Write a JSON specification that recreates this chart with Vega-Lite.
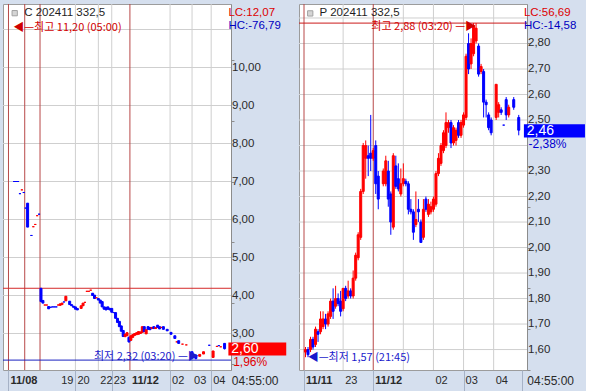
{
"$schema": "https://vega.github.io/schema/vega-lite/v6.json",
"background": "#d5dfee",
"padding": {"left": 2, "top": 3, "right": 0, "bottom": 0},
"spacing": 68,
"bounds": "flush",
"config": {
  "view": {"fill": "#ffffff", "stroke": "#9c9c9c"},
  "axis": {"labelFont": "Liberation Sans", "labelFontSize": 12, "labelColor": "#2a2a2a", "domainColor": "#8c8c8c", "tickColor": "#8c8c8c", "grid": false}
},
"datasets": {
"one": [{}],
"gLx": [{"v":35},{"v":47},{"v":54},{"v":84.5},{"v":96},{"v":106}],
"gLy": [{"v":3},{"v":4},{"v":5},{"v":6},{"v":7},{"v":8},{"v":9},{"v":10},{"v":11}],
"tLxB": [{"v":0,"t":"11/08"},{"v":63.5,"t":"11/12"}],
"tLxN": [{"v":26.5,"t":"19"},{"v":35,"t":"20"},{"v":47,"t":"22"},{"v":54,"t":"23"},{"v":84.5,"t":"02"},{"v":96,"t":"03"},{"v":106,"t":"04"}],
"tLy": [{"v":3,"t":"3,00"},{"v":4,"t":"4,00"},{"v":5,"t":"5,00"},{"v":6,"t":"6,00"},{"v":7,"t":"7,00"},{"v":8,"t":"8,00"},{"v":9,"t":"9,00"},{"v":10,"t":"10,00"}],
"gRx": [{"v":15},{"v":39},{"v":51},{"v":63},{"v":75}],
"gRy": [{"v":1.6},{"v":1.7},{"v":1.8},{"v":1.9},{"v":2.0},{"v":2.1},{"v":2.2},{"v":2.3},{"v":2.4},{"v":2.5},{"v":2.6},{"v":2.7},{"v":2.8},{"v":2.9}],
"tRxB": [{"v":-0.6,"t":"11/11"},{"v":27,"t":"11/12"}],
"tRxN": [{"v":15,"t":"23"},{"v":51,"t":"02"},{"v":63,"t":"03"},{"v":75,"t":"04"}],
"tRy": [{"v":1.6,"t":"1,60"},{"v":1.7,"t":"1,70"},{"v":1.8,"t":"1,80"},{"v":1.9,"t":"1,90"},{"v":2.0,"t":"2,00"},{"v":2.1,"t":"2,10"},{"v":2.2,"t":"2,20"},{"v":2.3,"t":"2,30"},{"v":2.5,"t":"2,50"},{"v":2.6,"t":"2,60"},{"v":2.7,"t":"2,70"},{"v":2.8,"t":"2,80"}],
"L": [
{"n":3,"o":7,"h":7,"l":7,"c":7,"d":"d"},
{"n":4,"o":7,"h":7,"l":7,"c":7,"d":"d"},
{"n":5,"o":7,"h":7,"l":7,"c":7,"d":"d"},
{"n":6,"o":6.68,"h":6.68,"l":6.68,"c":6.68,"d":"d"},
{"n":7,"o":6.78,"h":6.78,"l":6.78,"c":6.78,"d":"u"},
{"n":8,"o":6.71,"h":6.71,"l":6.71,"c":6.71,"d":"d"},
{"n":9,"o":6.3,"h":6.3,"l":6.3,"c":6.3,"d":"d"},
{"n":10,"o":6.43,"h":6.43,"l":5.8,"c":5.8,"d":"d"},
{"n":12,"o":5.58,"h":5.58,"l":5.58,"c":5.58,"d":"d"},
{"n":13,"o":5.81,"h":5.81,"l":5.81,"c":5.81,"d":"u"},
{"n":14,"o":5.87,"h":5.87,"l":5.87,"c":5.87,"d":"u"},
{"n":15,"o":6.1,"h":6.1,"l":6.1,"c":6.1,"d":"u"},
{"n":16,"o":6.14,"h":6.14,"l":6.14,"c":6.14,"d":"d"},
{"n":17,"o":4.19,"h":4.19,"l":3.84,"c":3.84,"d":"d"},
{"n":18,"o":3.87,"h":3.87,"l":3.8,"c":3.8,"d":"d"},
{"n":19,"o":3.75,"h":3.75,"l":3.75,"c":3.75,"d":"u"},
{"n":20,"o":3.75,"h":3.75,"l":3.75,"c":3.75,"d":"u"},
{"n":21,"o":3.71,"h":3.71,"l":3.65,"c":3.65,"d":"d"},
{"n":22,"o":3.69,"h":3.69,"l":3.69,"c":3.69,"d":"d"},
{"n":23,"o":3.7,"h":3.7,"l":3.7,"c":3.7,"d":"d"},
{"n":24,"o":3.7,"h":3.7,"l":3.7,"c":3.7,"d":"d"},
{"n":25,"o":3.7,"h":3.7,"l":3.7,"c":3.7,"d":"d"},
{"n":26,"o":3.75,"h":3.75,"l":3.75,"c":3.75,"d":"u"},
{"n":27,"o":3.74,"h":3.78,"l":3.74,"c":3.78,"d":"u"},
{"n":28,"o":3.76,"h":3.8,"l":3.76,"c":3.8,"d":"u"},
{"n":29,"o":3.83,"h":3.83,"l":3.83,"c":3.83,"d":"d"},
{"n":30,"o":3.86,"h":3.98,"l":3.86,"c":3.98,"d":"u"},
{"n":32,"o":3.85,"h":3.85,"l":3.76,"c":3.76,"d":"d"},
{"n":33,"o":3.76,"h":3.76,"l":3.73,"c":3.73,"d":"d"},
{"n":34,"o":3.72,"h":3.72,"l":3.69,"c":3.69,"d":"d"},
{"n":35,"o":3.7,"h":3.7,"l":3.64,"c":3.64,"d":"d"},
{"n":36,"o":3.66,"h":3.66,"l":3.62,"c":3.62,"d":"d"},
{"n":38,"o":3.66,"h":3.73,"l":3.66,"c":3.73,"d":"u"},
{"n":39,"o":3.73,"h":3.8,"l":3.73,"c":3.8,"d":"u"},
{"n":40,"o":3.82,"h":3.82,"l":3.82,"c":3.82,"d":"u"},
{"n":41,"o":4.11,"h":4.11,"l":4.11,"c":4.11,"d":"u"},
{"n":42,"o":4.11,"h":4.11,"l":4.11,"c":4.11,"d":"u"},
{"n":43,"o":4.14,"h":4.14,"l":4.14,"c":4.14,"d":"u"},
{"n":44,"o":4.06,"h":4.06,"l":4.0,"c":4.0,"d":"d"},
{"n":45,"o":4.01,"h":4.01,"l":3.92,"c":3.92,"d":"d"},
{"n":46,"o":3.94,"h":3.94,"l":3.94,"c":3.94,"d":"u"},
{"n":47,"o":3.92,"h":3.92,"l":3.88,"c":3.88,"d":"d"},
{"n":48,"o":3.88,"h":3.88,"l":3.8,"c":3.8,"d":"d"},
{"n":49,"o":3.84,"h":3.84,"l":3.7,"c":3.7,"d":"d"},
{"n":50,"o":3.7,"h":3.7,"l":3.64,"c":3.64,"d":"d"},
{"n":51,"o":3.69,"h":3.69,"l":3.62,"c":3.62,"d":"d"},
{"n":52,"o":3.7,"h":3.7,"l":3.64,"c":3.64,"d":"d"},
{"n":53,"o":3.66,"h":3.66,"l":3.62,"c":3.62,"d":"d"},
{"n":54,"o":3.66,"h":3.66,"l":3.56,"c":3.56,"d":"d"},
{"n":55,"o":3.55,"h":3.55,"l":3.55,"c":3.55,"d":"d"},
{"n":56,"o":3.55,"h":3.55,"l":3.4,"c":3.4,"d":"d"},
{"n":57,"o":3.4,"h":3.4,"l":3.29,"c":3.29,"d":"d"},
{"n":58,"o":3.32,"h":3.32,"l":3.18,"c":3.18,"d":"d"},
{"n":59,"o":3.2,"h":3.2,"l":3.06,"c":3.06,"d":"d"},
{"n":60,"o":3.08,"h":3.08,"l":2.92,"c":2.92,"d":"d"},
{"n":61,"o":2.92,"h":3.0,"l":2.9,"c":2.98,"d":"u"},
{"n":62,"o":2.94,"h":3.04,"l":2.94,"c":3.02,"d":"u"},
{"n":63,"o":2.9,"h":2.92,"l":2.76,"c":2.78,"d":"d"},
{"n":64,"o":2.82,"h":2.94,"l":2.81,"c":2.94,"d":"u"},
{"n":65,"o":2.9,"h":2.98,"l":2.89,"c":2.97,"d":"u"},
{"n":66,"o":2.95,"h":3.0,"l":2.95,"c":3.0,"d":"u"},
{"n":67,"o":2.97,"h":3.03,"l":2.97,"c":3.02,"d":"u"},
{"n":68,"o":2.98,"h":3.05,"l":2.98,"c":3.05,"d":"u"},
{"n":69,"o":3.0,"h":3.05,"l":3.0,"c":3.04,"d":"u"},
{"n":70,"o":3.03,"h":3.18,"l":3.03,"c":3.18,"d":"u"},
{"n":71,"o":3.18,"h":3.18,"l":3.04,"c":3.05,"d":"d"},
{"n":72,"o":2.99,"h":3.1,"l":2.99,"c":3.1,"d":"u"},
{"n":73,"o":3.18,"h":3.18,"l":3.11,"c":3.11,"d":"d"},
{"n":74,"o":3.16,"h":3.16,"l":3.1,"c":3.1,"d":"d"},
{"n":75,"o":3.13,"h":3.16,"l":3.13,"c":3.16,"d":"u"},
{"n":76,"o":3.18,"h":3.18,"l":3.13,"c":3.13,"d":"d"},
{"n":77,"o":3.13,"h":3.16,"l":3.13,"c":3.16,"d":"u"},
{"n":78,"o":3.22,"h":3.22,"l":3.16,"c":3.16,"d":"d"},
{"n":79,"o":3.18,"h":3.18,"l":3.12,"c":3.12,"d":"d"},
{"n":80,"o":3.16,"h":3.16,"l":3.16,"c":3.16,"d":"u"},
{"n":81,"o":3.18,"h":3.18,"l":3.11,"c":3.11,"d":"d"},
{"n":83,"o":3.11,"h":3.11,"l":3.07,"c":3.07,"d":"d"},
{"n":85,"o":3.03,"h":3.03,"l":2.98,"c":2.98,"d":"d"},
{"n":87,"o":2.94,"h":2.94,"l":2.87,"c":2.87,"d":"d"},
{"n":88,"o":2.78,"h":2.78,"l":2.78,"c":2.78,"d":"u"},
{"n":89,"o":2.81,"h":2.81,"l":2.74,"c":2.74,"d":"d"},
{"n":91,"o":2.72,"h":2.72,"l":2.72,"c":2.72,"d":"u"},
{"n":93,"o":2.7,"h":2.7,"l":2.7,"c":2.7,"d":"u"},
{"n":96,"o":2.52,"h":2.52,"l":2.36,"c":2.38,"d":"d"},
{"n":97,"o":2.44,"h":2.45,"l":2.37,"c":2.37,"d":"d"},
{"n":98,"o":2.43,"h":2.45,"l":2.32,"c":2.34,"d":"d"},
{"n":100,"o":2.4,"h":2.45,"l":2.4,"c":2.45,"d":"u"},
{"n":102,"o":2.46,"h":2.52,"l":2.46,"c":2.52,"d":"u"},
{"n":105,"o":2.69,"h":2.69,"l":2.69,"c":2.69,"d":"d"},
{"n":107,"o":2.37,"h":2.54,"l":2.37,"c":2.54,"d":"u"},
{"n":109,"o":2.66,"h":2.66,"l":2.66,"c":2.66,"d":"u"},
{"n":110,"o":2.68,"h":2.68,"l":2.68,"c":2.68,"d":"d"},
{"n":111,"o":2.65,"h":2.65,"l":2.65,"c":2.65,"d":"u"},
{"n":113,"o":2.74,"h":2.75,"l":2.58,"c":2.6,"d":"d"}
],
"R": [
{"n":0,"o":1.59,"h":1.61,"l":1.57,"c":1.6,"d":"u"},
{"n":1,"o":1.6,"h":1.61,"l":1.57,"c":1.58,"d":"d"},
{"n":2,"o":1.6,"h":1.65,"l":1.59,"c":1.64,"d":"u"},
{"n":3,"o":1.64,"h":1.65,"l":1.6,"c":1.61,"d":"d"},
{"n":4,"o":1.62,"h":1.69,"l":1.61,"c":1.68,"d":"u"},
{"n":5,"o":1.67,"h":1.68,"l":1.63,"c":1.66,"d":"d"},
{"n":6,"o":1.67,"h":1.75,"l":1.66,"c":1.72,"d":"u"},
{"n":7,"o":1.69,"h":1.75,"l":1.68,"c":1.72,"d":"u"},
{"n":8,"o":1.72,"h":1.74,"l":1.68,"c":1.7,"d":"d"},
{"n":9,"o":1.7,"h":1.75,"l":1.69,"c":1.74,"d":"u"},
{"n":10,"o":1.73,"h":1.8,"l":1.72,"c":1.79,"d":"u"},
{"n":11,"o":1.79,"h":1.84,"l":1.72,"c":1.75,"d":"d"},
{"n":12,"o":1.77,"h":1.85,"l":1.76,"c":1.8,"d":"u"},
{"n":13,"o":1.8,"h":1.82,"l":1.77,"c":1.78,"d":"d"},
{"n":14,"o":1.79,"h":1.83,"l":1.73,"c":1.75,"d":"d"},
{"n":15,"o":1.76,"h":1.84,"l":1.75,"c":1.84,"d":"u"},
{"n":16,"o":1.84,"h":1.85,"l":1.79,"c":1.8,"d":"d"},
{"n":17,"o":1.81,"h":1.87,"l":1.8,"c":1.83,"d":"u"},
{"n":18,"o":1.83,"h":1.84,"l":1.8,"c":1.81,"d":"d"},
{"n":19,"o":1.81,"h":1.91,"l":1.8,"c":1.88,"d":"u"},
{"n":20,"o":1.88,"h":1.98,"l":1.87,"c":1.97,"d":"u"},
{"n":21,"o":1.96,"h":2.06,"l":1.95,"c":2.05,"d":"u"},
{"n":22,"o":2.04,"h":2.23,"l":2.03,"c":2.22,"d":"u"},
{"n":23,"o":2.22,"h":2.41,"l":2.21,"c":2.4,"d":"u"},
{"n":24,"o":2.35,"h":2.42,"l":2.27,"c":2.4,"d":"u"},
{"n":25,"o":2.36,"h":2.4,"l":2.28,"c":2.35,"d":"d"},
{"n":26,"o":2.37,"h":2.52,"l":2.3,"c":2.35,"d":"d"},
{"n":27,"o":2.35,"h":2.39,"l":2.34,"c":2.38,"d":"u"},
{"n":28,"o":2.4,"h":2.42,"l":2.21,"c":2.25,"d":"d"},
{"n":29,"o":2.28,"h":2.3,"l":2.15,"c":2.19,"d":"d"},
{"n":31,"o":2.25,"h":2.31,"l":2.24,"c":2.3,"d":"u"},
{"n":32,"o":2.25,"h":2.36,"l":2.24,"c":2.34,"d":"u"},
{"n":33,"o":2.3,"h":2.34,"l":2.16,"c":2.19,"d":"d"},
{"n":34,"o":2.21,"h":2.22,"l":2.05,"c":2.1,"d":"d"},
{"n":35,"o":2.08,"h":2.37,"l":2.07,"c":2.36,"d":"u"},
{"n":36,"o":2.32,"h":2.36,"l":2.23,"c":2.24,"d":"d"},
{"n":37,"o":2.27,"h":2.33,"l":2.22,"c":2.23,"d":"d"},
{"n":38,"o":2.21,"h":2.31,"l":2.2,"c":2.25,"d":"u"},
{"n":39,"o":2.25,"h":2.33,"l":2.24,"c":2.27,"d":"u"},
{"n":40,"o":2.26,"h":2.27,"l":2.24,"c":2.25,"d":"d"},
{"n":41,"o":2.25,"h":2.26,"l":2.13,"c":2.15,"d":"d"},
{"n":42,"o":2.15,"h":2.19,"l":2.13,"c":2.14,"d":"d"},
{"n":43,"o":2.14,"h":2.15,"l":2.03,"c":2.06,"d":"d"},
{"n":44,"o":2.09,"h":2.22,"l":2.08,"c":2.11,"d":"u"},
{"n":45,"o":2.15,"h":2.19,"l":2.1,"c":2.14,"d":"d"},
{"n":46,"o":2.1,"h":2.11,"l":2.02,"c":2.02,"d":"d"},
{"n":47,"o":2.04,"h":2.19,"l":2.03,"c":2.15,"d":"u"},
{"n":48,"o":2.19,"h":2.2,"l":2.14,"c":2.15,"d":"d"},
{"n":49,"o":2.13,"h":2.19,"l":2.12,"c":2.17,"d":"u"},
{"n":50,"o":2.14,"h":2.18,"l":2.13,"c":2.16,"d":"u"},
{"n":51,"o":2.15,"h":2.2,"l":2.14,"c":2.19,"d":"u"},
{"n":52,"o":2.17,"h":2.3,"l":2.16,"c":2.29,"d":"u"},
{"n":53,"o":2.29,"h":2.37,"l":2.28,"c":2.35,"d":"u"},
{"n":54,"o":2.33,"h":2.41,"l":2.32,"c":2.4,"d":"u"},
{"n":55,"o":2.38,"h":2.46,"l":2.37,"c":2.45,"d":"u"},
{"n":56,"o":2.4,"h":2.53,"l":2.39,"c":2.49,"d":"u"},
{"n":57,"o":2.47,"h":2.5,"l":2.45,"c":2.49,"d":"u"},
{"n":58,"o":2.49,"h":2.5,"l":2.39,"c":2.41,"d":"d"},
{"n":59,"o":2.41,"h":2.48,"l":2.4,"c":2.47,"d":"u"},
{"n":60,"o":2.42,"h":2.47,"l":2.4,"c":2.46,"d":"u"},
{"n":61,"o":2.49,"h":2.5,"l":2.43,"c":2.44,"d":"d"},
{"n":62,"o":2.44,"h":2.5,"l":2.43,"c":2.49,"d":"u"},
{"n":63,"o":2.48,"h":2.53,"l":2.47,"c":2.52,"d":"u"},
{"n":64,"o":2.51,"h":2.76,"l":2.5,"c":2.75,"d":"u"},
{"n":65,"o":2.8,"h":2.84,"l":2.68,"c":2.7,"d":"d"},
{"n":66,"o":2.72,"h":2.82,"l":2.7,"c":2.8,"d":"u"},
{"n":67,"o":2.76,"h":2.88,"l":2.75,"c":2.87,"d":"u"},
{"n":68,"o":2.81,"h":2.88,"l":2.8,"c":2.86,"d":"u"},
{"n":69,"o":2.79,"h":2.8,"l":2.67,"c":2.68,"d":"d"},
{"n":70,"o":2.69,"h":2.72,"l":2.68,"c":2.71,"d":"u"},
{"n":71,"o":2.69,"h":2.7,"l":2.51,"c":2.57,"d":"d"},
{"n":72,"o":2.57,"h":2.58,"l":2.51,"c":2.56,"d":"d"},
{"n":73,"o":2.52,"h":2.53,"l":2.46,"c":2.47,"d":"d"},
{"n":74,"o":2.5,"h":2.51,"l":2.44,"c":2.45,"d":"d"},
{"n":76,"o":2.51,"h":2.64,"l":2.5,"c":2.64,"d":"u"},
{"n":77,"o":2.53,"h":2.57,"l":2.51,"c":2.56,"d":"u"},
{"n":78,"o":2.54,"h":2.55,"l":2.52,"c":2.53,"d":"d"},
{"n":79,"o":2.48,"h":2.48,"l":2.48,"c":2.48,"d":"d"},
{"n":80,"o":2.58,"h":2.59,"l":2.5,"c":2.52,"d":"d"},
{"n":81,"o":2.52,"h":2.56,"l":2.51,"c":2.55,"d":"u"},
{"n":83,"o":2.58,"h":2.59,"l":2.54,"c":2.55,"d":"d"},
{"n":85,"o":2.51,"h":2.52,"l":2.44,"c":2.46,"d":"d"}
]
},
"hconcat": [
{
  "width": 228, "height": 366,
  "layer": [
    {"data": {"name": "gLx"}, "mark": {"type": "rule", "color": "#cfcfcf", "strokeWidth": 1},
     "encoding": {"x": {"field": "v", "type": "quantitative"}}},
    {"data": {"name": "gLy"}, "mark": {"type": "rule", "color": "#cfcfcf", "strokeWidth": 1},
     "encoding": {"y": {"field": "v", "type": "quantitative"}}},
    {"data": {"name": "one"}, "mark": {"type": "rule", "color": "#b84848", "strokeWidth": 1},
     "encoding": {"x": {"datum": 0, "type": "quantitative"}}},
    {"data": {"name": "one"}, "mark": {"type": "rule", "color": "#b84848", "strokeWidth": 1},
     "encoding": {"x": {"datum": 8.5, "type": "quantitative"}}},
    {"data": {"name": "one"}, "mark": {"type": "rule", "color": "#b84848", "strokeWidth": 1},
     "encoding": {"x": {"datum": 16.5, "type": "quantitative"}}},
    {"data": {"name": "one"}, "mark": {"type": "rule", "color": "#b84848", "strokeWidth": 1},
     "encoding": {"x": {"datum": 63.5, "type": "quantitative"}}},
    {"data": {"name": "one"}, "mark": {"type": "rule", "color": "#d42a2a", "strokeWidth": 1},
     "encoding": {"y": {"datum": 4.19, "type": "quantitative"}}},
    {"data": {"name": "one"}, "mark": {"type": "rule", "color": "#1a22c0", "strokeWidth": 1},
     "encoding": {"y": {"datum": 2.3, "type": "quantitative"}}},
    {"data": {"name": "L"}, "mark": {"type": "rule", "strokeWidth": 1},
     "encoding": {
       "x": {"field": "n", "type": "quantitative", "scale": {"domain": [-0.25, 113.75], "nice": false, "zero": false},
             "axis": {"title": null, "values": [0, 26.5, 35, 47, 54, 63.5, 84.5, 96, 106, 113.75],
                      "labelExpr": "''", "domain": false, "grid": false,
                      "tickSize": 22, "tickColor": "#a6b2c6"}},
       "y": {"field": "l", "type": "quantitative", "scale": {"domain": [2.0395, 11.6711], "nice": false, "zero": false},
             "axis": {"title": null, "orient": "right",
                      "values": [2.2,2.4,2.6,2.8,3,3.2,3.4,3.6,3.8,4,4.2,4.4,4.6,4.8,5,5.2,5.4,5.6,5.8,6,6.2,6.4,6.6,6.8,7,7.2,7.4,7.6,7.8,8,8.2,8.4,8.6,8.8,9,9.2,9.4,9.6,9.8,10,10.2,10.4,10.6,10.8,11,11.2,11.4,11.6],
                      "labelExpr": "''", "grid": false, "tickSize": 3}},
       "y2": {"field": "h"},
       "color": {"field": "d", "type": "nominal", "scale": {"domain": ["u", "d"], "range": ["#ff0000", "#0000ff"]}, "legend": null}
     }},
    {"data": {"name": "L"}, "mark": {"type": "bar", "size": 2, "strokeWidth": 1},
     "encoding": {
       "x": {"field": "n", "type": "quantitative"},
       "y": {"field": "o", "type": "quantitative"},
       "y2": {"field": "c"},
       "color": {"field": "d", "type": "nominal", "scale": {"domain": ["u", "d"], "range": ["#ff0000", "#0000ff"]}, "legend": null},
       "stroke": {"field": "d", "type": "nominal", "scale": {"domain": ["u", "d"], "range": ["#ff0000", "#0000ff"]}, "legend": null}
     }},
    {"data": {"name": "tLxB"}, "mark": {"type": "text", "align": "left", "baseline": "middle", "dx": 2, "font": "Liberation Sans", "fontSize": 11, "fontWeight": "bold", "color": "#2a2a2a"},
     "encoding": {"x": {"field": "v", "type": "quantitative"}, "y": {"datum": 1.75, "type": "quantitative"}, "text": {"field": "t"}}},
    {"data": {"name": "tLxN"}, "mark": {"type": "text", "align": "left", "baseline": "middle", "dx": 2, "font": "Liberation Sans", "fontSize": 11, "color": "#2a2a2a"},
     "encoding": {"x": {"field": "v", "type": "quantitative"}, "y": {"datum": 1.75, "type": "quantitative"}, "text": {"field": "t"}}},
    {"data": {"name": "tLy"}, "mark": {"type": "text", "align": "left", "baseline": "middle", "dx": 6, "font": "Liberation Sans", "fontSize": 11.5, "color": "#2a2a2a"},
     "encoding": {"x": {"datum": 113.75, "type": "quantitative"}, "y": {"field": "v", "type": "quantitative"}, "text": {"field": "t"}}},
    {"data": {"name": "one"}, "mark": {"type": "square", "size": 28, "filled": true, "color": "#c4c4c4", "stroke": "#7c7c7c", "strokeWidth": 1},
     "encoding": {"x": {"datum": 3.25, "type": "quantitative"}, "y": {"datum": 11.43, "type": "quantitative"}}},
    {"data": {"name": "one"}, "mark": {"type": "text", "align": "left", "baseline": "middle", "font": "Liberation Sans", "fontSize": 11.5, "color": "#1e1e1e"},
     "encoding": {"x": {"datum": 8.2, "type": "quantitative"}, "y": {"datum": 11.43, "type": "quantitative"}, "text": {"value": "C 202411 332,5"}}},
    {"data": {"name": "one"}, "mark": {"type": "text", "align": "left", "baseline": "middle", "font": "Noto Sans CJK KR", "fontSize": 11, "color": "#d00000"},
     "encoding": {"x": {"datum": 2.5, "type": "quantitative"}, "y": {"datum": 11.04, "type": "quantitative"}, "text": {"value": "◀—최고 11,20 (05:00)"}}},
    {"data": {"name": "one"}, "mark": {"type": "text", "align": "right", "baseline": "middle", "font": "Noto Sans CJK KR", "fontSize": 11, "color": "#1a1acc"},
     "encoding": {"x": {"datum": 99.5, "type": "quantitative"}, "y": {"datum": 2.39, "type": "quantitative"}, "text": {"value": "최저 2,32 (03:20) —▶"}}},
    {"data": {"name": "one"}, "mark": {"type": "text", "align": "left", "baseline": "middle", "font": "Liberation Sans", "fontSize": 11.5, "color": "#dd0000"},
     "encoding": {"x": {"datum": 115, "type": "quantitative"}, "y": {"datum": 11.44, "type": "quantitative"}, "text": {"value": "LC:12,07"}}},
    {"data": {"name": "one"}, "mark": {"type": "text", "align": "left", "baseline": "middle", "font": "Liberation Sans", "fontSize": 11.5, "color": "#0000c0"},
     "encoding": {"x": {"datum": 115, "type": "quantitative"}, "y": {"datum": 11.1, "type": "quantitative"}, "text": {"value": "HC:-76,79"}}},
    {"data": {"name": "one"}, "mark": {"type": "rect", "color": "#ff0000"},
     "encoding": {"x": {"datum": 115, "type": "quantitative"}, "x2": {"datum": 145.25}, "y": {"datum": 2.42, "type": "quantitative"}, "y2": {"datum": 2.76}}},
    {"data": {"name": "one"}, "mark": {"type": "text", "align": "left", "baseline": "middle", "font": "Liberation Sans", "fontSize": 14, "color": "#ffffff"},
     "encoding": {"x": {"datum": 116.5, "type": "quantitative"}, "y": {"datum": 2.6, "type": "quantitative"}, "text": {"value": "2,60"}}},
    {"data": {"name": "one"}, "mark": {"type": "text", "align": "left", "baseline": "middle", "font": "Liberation Sans", "fontSize": 12, "color": "#e00000"},
     "encoding": {"x": {"datum": 117.5, "type": "quantitative"}, "y": {"datum": 2.25, "type": "quantitative"}, "text": {"value": "1,96%"}}},
    {"data": {"name": "one"}, "mark": {"type": "text", "align": "center", "baseline": "middle", "font": "Liberation Sans", "fontSize": 12, "color": "#2a2a2a"},
     "encoding": {"x": {"datum": 129, "type": "quantitative"}, "y": {"datum": 1.75, "type": "quantitative"}, "text": {"value": "04:55:00"}}}
  ]
},
{
  "width": 228, "height": 366,
  "layer": [
    {"data": {"name": "gRx"}, "mark": {"type": "rule", "color": "#cfcfcf", "strokeWidth": 1},
     "encoding": {"x": {"field": "v", "type": "quantitative"}}},
    {"data": {"name": "gRy"}, "mark": {"type": "rule", "color": "#cfcfcf", "strokeWidth": 1},
     "encoding": {"y": {"field": "v", "type": "quantitative"}}},
    {"data": {"name": "one"}, "mark": {"type": "rule", "color": "#b84848", "strokeWidth": 1},
     "encoding": {"x": {"datum": -0.6, "type": "quantitative"}}},
    {"data": {"name": "one"}, "mark": {"type": "rule", "color": "#b84848", "strokeWidth": 1},
     "encoding": {"x": {"datum": 27, "type": "quantitative"}}},
    {"data": {"name": "one"}, "mark": {"type": "rule", "color": "#cc1a1a", "strokeWidth": 1},
     "encoding": {"y": {"datum": 2.88, "type": "quantitative"}}},
    {"data": {"name": "R"}, "mark": {"type": "rule", "strokeWidth": 1},
     "encoding": {
       "x": {"field": "n", "type": "quantitative", "scale": {"domain": [-0.6, 86.3], "nice": false, "zero": false},
             "axis": {"title": null, "values": [-0.6, 15, 27, 51, 63, 75, 86.3],
                      "labelExpr": "''", "domain": false, "grid": false,
                      "tickSize": 22, "tickColor": "#a6b2c6"}},
       "y": {"field": "l", "type": "quantitative", "scale": {"domain": [1.51984, 2.95487], "nice": false, "zero": false},
             "axis": {"title": null, "orient": "right",
                      "values": [1.52,1.54,1.56,1.58,1.6,1.62,1.64,1.66,1.68,1.7,1.72,1.74,1.76,1.78,1.8,1.82,1.84,1.86,1.88,1.9,1.92,1.94,1.96,1.98,2,2.02,2.04,2.06,2.08,2.1,2.12,2.14,2.16,2.18,2.2,2.22,2.24,2.26,2.28,2.3,2.32,2.34,2.36,2.38,2.4,2.42,2.44,2.46,2.48,2.5,2.52,2.54,2.56,2.58,2.6,2.62,2.64,2.66,2.68,2.7,2.72,2.74,2.76,2.78,2.8,2.82,2.84,2.86,2.88,2.9,2.92,2.94],
                      "labelExpr": "''", "grid": false, "tickSize": 3}},
       "y2": {"field": "h"},
       "color": {"field": "d", "type": "nominal", "scale": {"domain": ["u", "d"], "range": ["#ff0000", "#0000ff"]}, "legend": null}
     }},
    {"data": {"name": "R"}, "mark": {"type": "bar", "size": 2, "strokeWidth": 1},
     "encoding": {
       "x": {"field": "n", "type": "quantitative"},
       "y": {"field": "o", "type": "quantitative"},
       "y2": {"field": "c"},
       "color": {"field": "d", "type": "nominal", "scale": {"domain": ["u", "d"], "range": ["#ff0000", "#0000ff"]}, "legend": null},
       "stroke": {"field": "d", "type": "nominal", "scale": {"domain": ["u", "d"], "range": ["#ff0000", "#0000ff"]}, "legend": null}
     }},
    {"data": {"name": "tRxB"}, "mark": {"type": "text", "align": "left", "baseline": "middle", "dx": 2, "font": "Liberation Sans", "fontSize": 11, "fontWeight": "bold", "color": "#2a2a2a"},
     "encoding": {"x": {"field": "v", "type": "quantitative"}, "y": {"datum": 1.4749, "type": "quantitative"}, "text": {"field": "t"}}},
    {"data": {"name": "tRxN"}, "mark": {"type": "text", "align": "left", "baseline": "middle", "dx": 2, "font": "Liberation Sans", "fontSize": 11, "color": "#2a2a2a"},
     "encoding": {"x": {"field": "v", "type": "quantitative"}, "y": {"datum": 1.4749, "type": "quantitative"}, "text": {"field": "t"}}},
    {"data": {"name": "tRy"}, "mark": {"type": "text", "align": "left", "baseline": "middle", "dx": 6, "font": "Liberation Sans", "fontSize": 11.5, "color": "#2a2a2a"},
     "encoding": {"x": {"datum": 86.3, "type": "quantitative"}, "y": {"field": "v", "type": "quantitative"}, "text": {"field": "t"}}},
    {"data": {"name": "one"}, "mark": {"type": "square", "size": 28, "filled": true, "color": "#c4c4c4", "stroke": "#7c7c7c", "strokeWidth": 1},
     "encoding": {"x": {"datum": 1.88, "type": "quantitative"}, "y": {"datum": 2.918, "type": "quantitative"}}},
    {"data": {"name": "one"}, "mark": {"type": "text", "align": "left", "baseline": "middle", "font": "Liberation Sans", "fontSize": 11.5, "color": "#1e1e1e"},
     "encoding": {"x": {"datum": 5.6, "type": "quantitative"}, "y": {"datum": 2.918, "type": "quantitative"}, "text": {"value": "P 202411 332,5"}}},
    {"data": {"name": "one"}, "mark": {"type": "text", "align": "right", "baseline": "middle", "font": "Noto Sans CJK KR", "fontSize": 11, "color": "#d00000"},
     "encoding": {"x": {"datum": 68, "type": "quantitative"}, "y": {"datum": 2.864, "type": "quantitative"}, "text": {"value": "최고 2,88 (03:20) —▶"}}},
    {"data": {"name": "one"}, "mark": {"type": "text", "align": "left", "baseline": "middle", "font": "Noto Sans CJK KR", "fontSize": 11, "color": "#1a1acc"},
     "encoding": {"x": {"datum": 0.9, "type": "quantitative"}, "y": {"datum": 1.567, "type": "quantitative"}, "text": {"value": "◀—최저 1,57 (21:45)"}}},
    {"data": {"name": "one"}, "mark": {"type": "text", "align": "left", "baseline": "middle", "font": "Liberation Sans", "fontSize": 11.5, "color": "#dd0000"},
     "encoding": {"x": {"datum": 87.06, "type": "quantitative"}, "y": {"datum": 2.92, "type": "quantitative"}, "text": {"value": "LC:56,69"}}},
    {"data": {"name": "one"}, "mark": {"type": "text", "align": "left", "baseline": "middle", "font": "Liberation Sans", "fontSize": 11.5, "color": "#0000c0"},
     "encoding": {"x": {"datum": 87.06, "type": "quantitative"}, "y": {"datum": 2.869, "type": "quantitative"}, "text": {"value": "HC:-14,58"}}},
    {"data": {"name": "one"}, "mark": {"type": "rect", "color": "#0000ff"},
     "encoding": {"x": {"datum": 87.06, "type": "quantitative"}, "x2": {"datum": 111.4}, "y": {"datum": 2.431, "type": "quantitative"}, "y2": {"datum": 2.483}}},
    {"data": {"name": "one"}, "mark": {"type": "text", "align": "left", "baseline": "middle", "font": "Liberation Sans", "fontSize": 14, "color": "#ffffff"},
     "encoding": {"x": {"datum": 88.2, "type": "quantitative"}, "y": {"datum": 2.457, "type": "quantitative"}, "text": {"value": "2,46"}}},
    {"data": {"name": "one"}, "mark": {"type": "text", "align": "left", "baseline": "middle", "font": "Liberation Sans", "fontSize": 12, "color": "#0000d0"},
     "encoding": {"x": {"datum": 88.9, "type": "quantitative"}, "y": {"datum": 2.404, "type": "quantitative"}, "text": {"value": "-2,38%"}}},
    {"data": {"name": "one"}, "mark": {"type": "text", "align": "center", "baseline": "middle", "font": "Liberation Sans", "fontSize": 12, "color": "#2a2a2a"},
     "encoding": {"x": {"datum": 97.73, "type": "quantitative"}, "y": {"datum": 1.4749, "type": "quantitative"}, "text": {"value": "04:55:00"}}}
  ]
}
]
}
